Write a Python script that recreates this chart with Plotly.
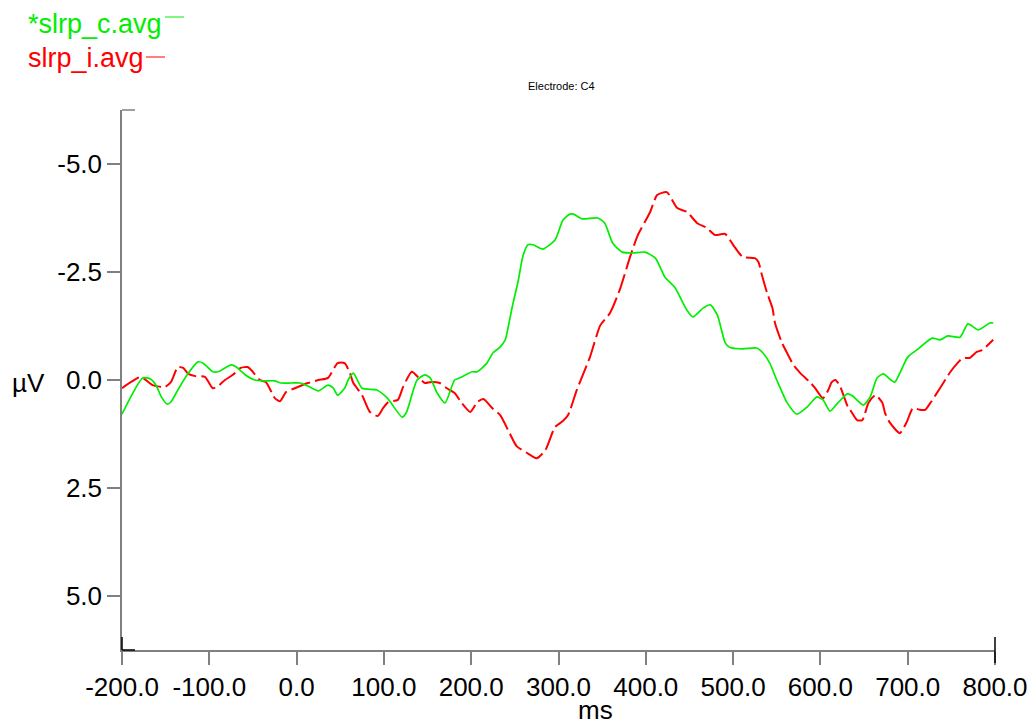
import plotly.graph_objects as go

# Time axis (ms) and amplitude (µV)
green_t = [-200, -176, -167, -161, -155, -148, -144, -136, -124, -113, -107, -96, -90, -75, -69, -59, -48, -36, -25, -18, -6, 4, 13, 25, 36, 42, 47, 55, 59, 65, 75, 92, 104, 121, 126, 138, 147, 153, 161, 170, 181, 187, 201, 207, 218, 225, 233, 239, 241, 247, 254, 259, 265, 271, 282, 296, 305, 313, 317, 327, 345, 353, 362, 373, 385, 399, 411, 422, 433, 447, 454, 466, 474, 482, 491, 496, 511, 527, 534, 542, 550, 562, 573, 585, 596, 603, 611, 620, 631, 637, 649, 657, 665, 672, 685, 691, 700, 712, 728, 737, 746, 760, 769, 781, 794, 798]
green_v = [0.79, -0.05, -0.02, 0.12, 0.39, 0.56, 0.51, 0.23, -0.16, -0.42, -0.39, -0.19, -0.19, -0.35, -0.30, -0.12, 0.0, 0.02, 0.02, 0.07, 0.07, 0.07, 0.14, 0.25, 0.12, 0.19, 0.35, 0.19, 0.0, -0.16, 0.19, 0.23, 0.42, 0.86, 0.74, 0.0, -0.12, -0.05, 0.30, 0.53, 0.0, -0.05, -0.19, -0.19, -0.39, -0.63, -0.76, -0.93, -1.09, -1.69, -2.31, -2.85, -3.13, -3.13, -3.03, -3.24, -3.70, -3.84, -3.84, -3.73, -3.75, -3.63, -3.17, -2.96, -2.94, -2.96, -2.82, -2.38, -2.15, -1.62, -1.46, -1.67, -1.74, -1.50, -0.86, -0.76, -0.72, -0.74, -0.63, -0.39, 0.0, 0.53, 0.79, 0.62, 0.39, 0.46, 0.72, 0.53, 0.32, 0.37, 0.58, 0.39, -0.05, -0.14, 0.05, -0.16, -0.53, -0.72, -0.97, -0.93, -1.02, -0.99, -1.30, -1.16, -1.32, -1.32]

red_t = [-200, -190, -179, -174, -165, -151, -144, -136, -130, -124, -116, -105, -96, -90, -82, -73, -64, -56, -52, -42, -35, -25, -19, -12, -2, 13, 25, 36, 47, 55, 61, 65, 75, 84, 93, 99, 105, 116, 122, 132, 139, 147, 153, 164, 172, 181, 189, 199, 207, 214, 224, 233, 244, 252, 264, 275, 285, 296, 305, 311, 321, 336, 348, 359, 370, 382, 391, 405, 413, 424, 436, 447, 459, 470, 479, 491, 500, 511, 525, 529, 533, 539, 545, 548, 556, 563, 569, 577, 588, 594, 603, 609, 613, 617, 622, 632, 634, 642, 648, 655, 663, 671, 674, 680, 691, 699, 706, 714, 720, 726, 737, 749, 757, 763, 771, 779, 785, 798]
red_v = [0.19, 0.05, -0.07, -0.02, 0.12, 0.16, 0.05, -0.30, -0.28, -0.14, -0.09, -0.07, 0.19, 0.14, 0.0, -0.12, -0.28, -0.30, -0.23, 0.0, 0.05, 0.42, 0.49, 0.28, 0.19, 0.07, 0.0, -0.05, -0.39, -0.39, -0.16, 0.07, 0.35, 0.74, 0.83, 0.65, 0.51, 0.46, 0.16, -0.19, -0.07, 0.07, 0.05, 0.07, 0.19, 0.30, 0.53, 0.74, 0.51, 0.44, 0.65, 0.81, 1.23, 1.53, 1.69, 1.81, 1.62, 1.09, 0.95, 0.81, 0.23, -0.53, -1.27, -1.55, -2.08, -2.85, -3.36, -3.89, -4.28, -4.35, -3.98, -3.89, -3.63, -3.52, -3.36, -3.38, -3.13, -2.85, -2.82, -2.73, -2.43, -2.01, -1.67, -1.32, -0.86, -0.58, -0.35, -0.16, 0.05, 0.19, 0.42, 0.23, 0.05, 0.0, 0.12, 0.65, 0.69, 0.93, 0.93, 0.53, 0.35, 0.53, 0.76, 1.00, 1.23, 0.97, 0.65, 0.69, 0.69, 0.53, 0.19, -0.19, -0.39, -0.51, -0.51, -0.65, -0.69, -0.93]

x_ticks = [-200, -100, 0, 100, 200, 300, 400, 500, 600, 700, 800]
x_labels = ["-200.0", "-100.0", "0.0", "100.0", "200.0", "300.0", "400.0", "500.0", "600.0", "700.0", "800.0"]
y_ticks = [-5, -2.5, 0, 2.5, 5]
y_labels = ["-5.0", "-2.5", "0.0", "2.5", "5.0"]

series_names = ["*slrp_c.avg", "slrp_i.avg"]
GREEN = "#00ee00"
RED = "#ff0000"
FONT = "Liberation Sans, Arial, sans-serif"
AXC = "#808080"

fig = go.Figure()
fig.add_trace(go.Scatter(x=red_t, y=red_v, mode="lines", name=series_names[1],
                         line=dict(color=RED, width=2, dash="20px,5px", shape="spline", smoothing=0.6)))
fig.add_trace(go.Scatter(x=green_t, y=green_v, mode="lines", name=series_names[0],
                         line=dict(color=GREEN, width=1.7, shape="spline", smoothing=0.6)))

# page offset (body margin) compensation
OFF = 8
W, H = 1036 - OFF, 727 - OFF
L, T = 122 - OFF, 110 - OFF
R = W - (995 - OFF)
B = H - (650 - OFF)
pw, ph = W - L - R, H - T - B

def px(xp):  # reference-pixel x -> paper
    return (xp - 122) / pw

def py(yp):  # reference-pixel y -> paper
    return (650 - yp) / ph

fig.update_layout(
    width=W, height=H,
    margin=dict(l=L, r=R, t=T, b=B, autoexpand=False),
    paper_bgcolor="white", plot_bgcolor="white",
    showlegend=False,
    font=dict(family=FONT, size=26, color="black"),
    xaxis=dict(range=[-200, 800], tickvals=x_ticks, ticktext=x_labels, automargin=False,
               showgrid=False, zeroline=False, showline=True, linecolor=AXC, linewidth=1.5,
               ticks="outside", ticklen=13, tickcolor=AXC, tickwidth=1.5,
               tickfont=dict(family=FONT, size=26, color="black")),
    yaxis=dict(range=[6.25, -6.25], tickvals=y_ticks, ticktext=y_labels, automargin=False,
               showgrid=False, zeroline=False, showline=True, linecolor=AXC, linewidth=1.5,
               ticks="outside", ticklen=13, tickcolor=AXC, tickwidth=1.5,
               tickfont=dict(family=FONT, size=26, color="black")),
)

# legend texts and their short line samples
fig.add_annotation(xref="paper", yref="paper", x=px(26), y=py(7), xanchor="left", yanchor="top",
                   text=series_names[0], showarrow=False, font=dict(family=FONT, size=27, color=GREEN))
fig.add_annotation(xref="paper", yref="paper", x=px(26), y=py(58), xanchor="left", yanchor="middle",
                   text=series_names[1], showarrow=False, font=dict(family=FONT, size=27, color=RED))
fig.add_shape(type="line", xref="paper", yref="paper", x0=px(165), x1=px(184), y0=py(17), y1=py(17),
              line=dict(color=GREEN, width=1))
fig.add_shape(type="line", xref="paper", yref="paper", x0=px(146), x1=px(165), y0=py(57), y1=py(57),
              line=dict(color=RED, width=1))

# title
fig.add_annotation(xref="paper", yref="paper", x=px(561), y=py(86), xanchor="center", yanchor="middle",
                   text="Electrode: C4", showarrow=False, font=dict(family=FONT, size=11, color="black"))

# axis titles
fig.add_annotation(xref="paper", yref="paper", x=px(28), y=py(383), xanchor="center", yanchor="middle",
                   text="µV", showarrow=False, font=dict(family=FONT, size=26, color="black"))
fig.add_annotation(xref="paper", yref="paper", x=px(595), y=py(710), xanchor="center", yanchor="middle",
                   text="ms", showarrow=False, font=dict(family=FONT, size=26, color="black"))

# axis end marks
fig.add_shape(type="line", xref="paper", yref="paper", x0=0, x1=px(135), y0=1, y1=1,
              line=dict(color=AXC, width=1.5))
fig.add_shape(type="line", xref="paper", yref="paper", x0=0, x1=0, y0=0, y1=py(637),
              line=dict(color="black", width=1.5))
fig.add_shape(type="line", xref="paper", yref="paper", x0=0, x1=px(135), y0=0, y1=0,
              line=dict(color="black", width=1.5))
fig.add_shape(type="line", xref="paper", yref="paper", x0=1, x1=1, y0=py(663), y1=py(637),
              line=dict(color="black", width=1.5))

fig.write_html("out.html")
